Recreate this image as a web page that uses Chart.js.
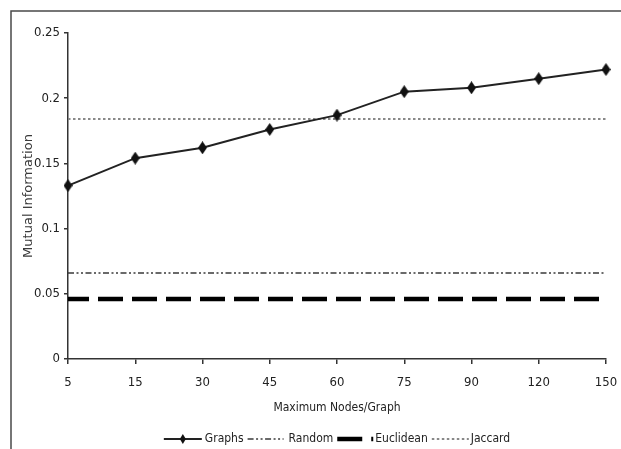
<!DOCTYPE html>
<html>
<head>
<meta charset="utf-8">
<script src="https://cdn.jsdelivr.net/npm/chart.js@4"></script>
<style>
  html, body { margin: 0; padding: 0; background: #fff; }
  #wrap { width: 621px; height: 449px; position: relative; }
</style>
</head>
<body>
<div id="wrap"><canvas id="lineChart"></canvas></div>
<script>
const nodes = ['5', '15', '30', '45', '60', '75', '90', '120', '150'];
const graphsMI = [0.133, 0.154, 0.162, 0.176, 0.187, 0.205, 0.208, 0.215, 0.222];
const randomMI = 0.066;
const euclideanMI = 0.046;
const jaccardMI = 0.184;
const yTicks = [0, 0.05, 0.1, 0.15, 0.2, 0.25];

const cond = "'DejaVu Sans Condensed', 'DejaVu Sans', sans-serif";

function flat(v)
{
    return nodes.map(() => v);
}

// diamond marker, a bit taller than wide
function diamond()
{
    const c = document.createElement('canvas');
    c.width = 9; c.height = 13;
    const g = c.getContext('2d');
    g.fillStyle = '#111';
    g.beginPath();
    g.moveTo(4.5, 0); g.lineTo(9, 6.5); g.lineTo(4.5, 13); g.lineTo(0, 6.5);
    g.closePath();
    g.fill();
    return c;
}

// legend drawn by hand so the line samples look like the original
const legendSamples = {
    Graphs: { w: 38, gap: 3 },
    Random: { w: 36, gap: 5 },
    Euclidean: { w: 36, gap: 2 },
    Jaccard: { w: 37, gap: 2 }
};

const bottomLegend = {
    id: 'bottomLegend',
    afterDraw(chart)
    {
        const ctx = chart.ctx;
        const area = chart.chartArea;
        const sets = chart.data.datasets;
        const y = 439;
        const itemGap = 4;

        ctx.save();
        ctx.font = '12px ' + cond;
        ctx.textBaseline = 'middle';
        ctx.fillStyle = '#222';

        let total = 0;
        sets.forEach((ds, i) =>
        {
            const s = legendSamples[ds.label];
            total += s.w + s.gap + ctx.measureText(ds.label).width;
            if (i < sets.length - 1) total += itemGap;
        });

        let x = (area.left + area.right) / 2 - total / 2;
        sets.forEach(ds =>
        {
            const s = legendSamples[ds.label];
            ctx.save();
            ctx.strokeStyle = ds.borderColor;
            ctx.lineWidth = ds.borderWidth;
            ctx.setLineDash(ds.borderDash || []);
            ctx.beginPath();
            ctx.moveTo(x, y);
            ctx.lineTo(x + s.w, y);
            ctx.stroke();
            if (ds.label === 'Graphs')
            {
                const cx = x + s.w / 2;
                ctx.fillStyle = '#111';
                ctx.beginPath();
                ctx.moveTo(cx, y - 5); ctx.lineTo(cx + 3, y); ctx.lineTo(cx, y + 5); ctx.lineTo(cx - 3, y);
                ctx.closePath();
                ctx.fill();
            }
            ctx.restore();
            x += s.w + s.gap;
            ctx.fillText(ds.label, x, y);
            x += ctx.measureText(ds.label).width + itemGap;
        });
        ctx.restore();
    }
};

const frame = {
    id: 'frame',
    beforeDraw(chart)
    {
        const ctx = chart.ctx;
        ctx.save();
        ctx.strokeStyle = '#4a4a4a';
        ctx.lineWidth = 1.5;
        ctx.beginPath();
        ctx.moveTo(11, chart.height);
        ctx.lineTo(11, 11);
        ctx.lineTo(chart.width, 11);
        ctx.stroke();
        ctx.restore();
    }
};

const ctx = document.getElementById('lineChart').getContext('2d');

new Chart(ctx, {
    type: 'line',
    data: {
        labels: nodes,
        datasets: [
            {
                label: 'Graphs',
                data: graphsMI,
                borderColor: '#222',
                borderWidth: 2,
                pointStyle: diamond(),
                pointRadius: 5,
                fill: false,
                tension: 0,
                order: 0
            },
            {
                label: 'Random',
                data: flat(randomMI),
                borderColor: '#3a3a3a',
                borderWidth: 1.5,
                borderDash: [6, 2.5, 2, 2.5, 2, 2.5],
                pointRadius: 0,
                fill: false,
                order: 1
            },
            {
                label: 'Euclidean',
                data: flat(euclideanMI),
                borderColor: '#000',
                borderWidth: 4.5,
                borderDash: [25, 9],
                borderDashOffset: 4,
                borderCapStyle: 'butt',
                pointRadius: 0,
                fill: false,
                order: 2
            },
            {
                label: 'Jaccard',
                data: flat(jaccardMI),
                borderColor: '#888',
                borderWidth: 2,
                borderDash: [2.5, 2.5],
                pointRadius: 0,
                fill: false,
                order: 3
            }
        ]
    },
    options: {
        responsive: true,
        maintainAspectRatio: false,
        animation: false,
        layout: {
            padding: { top: 33, right: 15, left: 0, bottom: 0 }
        },
        plugins: {
            tooltip: { enabled: false },
            legend: { display: false }
        },
        scales: {
            x: {
                offset: false,
                afterFit(scale)
                {
                    scale.height = 90;
                    scale.paddingRight = 0;
                    scale.paddingLeft = 0;
                },
                grid: { display: true, drawOnChartArea: false, drawTicks: true, tickLength: 5, color: '#333', lineWidth: 1.5 },
                border: { display: true, color: '#333', width: 1.5 },
                ticks: { color: '#222', padding: 11, maxRotation: 0, font: { family: cond, size: 13 } },
                title: {
                    display: true,
                    text: 'Maximum Nodes/Graph',
                    color: '#222',
                    padding: { top: 4, bottom: 34 },
                    font: { family: cond, size: 12 }
                }
            },
            y: {
                min: 0,
                max: 0.25,
                afterFit(scale) { scale.width = 68; },
                afterBuildTicks(scale) { scale.ticks = yTicks.map(v => ({ value: v })); },
                grid: { display: true, drawOnChartArea: false, drawTicks: true, tickLength: 4, color: '#333', lineWidth: 1.5 },
                border: { display: true, color: '#333', width: 1.5 },
                ticks: {
                    color: '#222',
                    padding: 4,
                    font: { family: cond, size: 13 },
                    callback: v => String(+v.toFixed(2))
                },
                title: {
                    display: true,
                    text: 'Mutual Information',
                    color: '#3a3a3a',
                    padding: { top: 21, bottom: 0 },
                    font: { family: "'DejaVu Sans', Verdana, sans-serif", size: 13 }
                }
            }
        }
    },
    plugins: [frame, bottomLegend]
});
</script>
</body>
</html>
